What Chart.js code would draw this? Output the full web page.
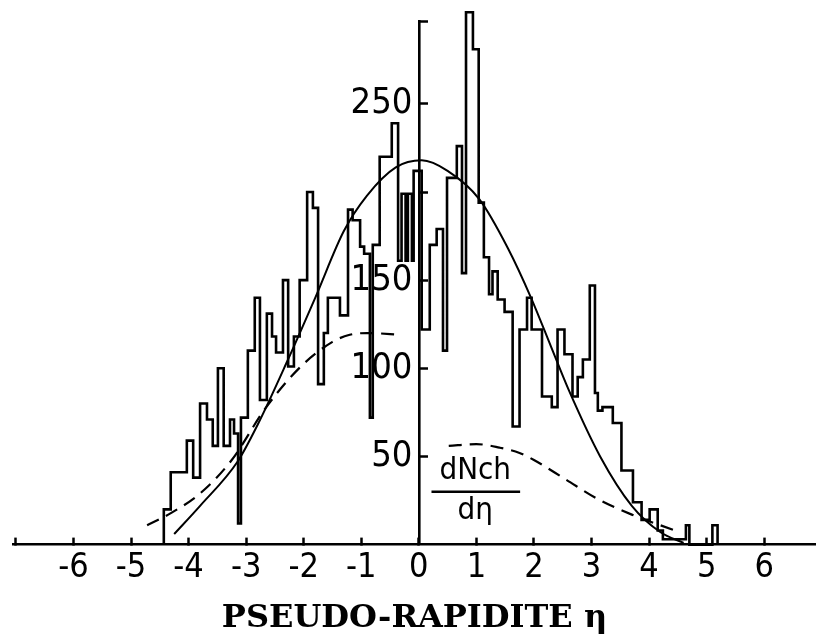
<!DOCTYPE html>
<html>
<head>
<meta charset="utf-8">
<script src="https://cdn.jsdelivr.net/npm/chart.js@4.4.1/dist/chart.umd.min.js"></script>
<style>
  html, body { margin: 0; padding: 0; background: #fff; }
  #etaChart { display: block; }
</style>
</head>
<body>
<canvas id="etaChart" width="816" height="639"></canvas>
<script>
// histogram: bin edges (eta) and counts per bin
const binEdges = [-4.43, -4.31, -4.03, -3.92, -3.80, -3.68, -3.58, -3.49, -3.39, -3.28,
  -3.21, -3.14, -3.09, -2.97, -2.85, -2.76, -2.64, -2.55, -2.48, -2.36,
  -2.27, -2.17, -2.07, -1.94, -1.84, -1.75, -1.65, -1.58, -1.37, -1.23,
  -1.15, -1.02, -0.95, -0.85, -0.80, -0.68, -0.47, -0.36, -0.30, -0.23,
  -0.19, -0.12, -0.09, 0.05, 0.19, 0.31, 0.42, 0.49, 0.66, 0.75,
  0.82, 0.94, 1.04, 1.13, 1.22, 1.28, 1.37, 1.49, 1.63, 1.75,
  1.88, 1.96, 2.14, 2.31, 2.41, 2.53, 2.67, 2.76, 2.85, 2.97,
  3.06, 3.11, 3.19, 3.37, 3.52, 3.72, 3.87, 4.01, 4.15, 4.24,
  4.64, 4.70, 5.10, 5.19];
const binCounts = [20, 41, 59, 38, 80, 71, 56, 100, 56, 71,
  63, 12, 72, 110, 140, 82, 131, 118, 109, 150,
  101, 118, 150, 200, 191, 91, 120, 140, 130, 190,
  184, 169, 165, 72, 170, 220, 239, 161, 199, 161,
  199, 161, 212, 122, 170, 179, 110, 208, 226, 154,
  302, 281, 194, 163, 142, 155, 139, 132, 67, 122,
  140, 122, 84, 78, 122, 108, 84, 95, 105, 147,
  86, 76, 78, 69, 42, 24, 14, 20, 8, 3,
  11, 0, 11];

// solid fitted curve
const fitEta = [-4.25, -3.8, -3.15, -2.8, -2.3, -1.8, -1.3, -0.9, -0.4, 0.05,
  0.5, 1.05, 1.55, 1.95, 2.3, 2.6, 3.15, 3.7, 4.2, 4.6];
const fitN = [6, 22, 47, 68, 103, 140, 178, 198, 214, 218,
  212, 196, 168, 140, 112, 88, 50, 22, 7, 1];

// dashed curve (two pieces, gap around the axis)
const dashEta = [-4.72, -4.3, -3.8, -3.25, -2.65, -2.05, -1.5, -1.2, -0.9, -0.3,
  0.1, 0.52, 1.0, 1.4, 1.75, 2.0, 2.55, 3.1, 3.7, 4.45];
const dashN = [11, 18, 29, 48, 78, 101, 115, 119, 120, 119,
  null, 56, 57, 55, 52, 48, 37, 26, 17, 8];

const xTickValues = [-7, -6, -5, -4, -3, -2, -1, 0, 1, 2, 3, 4, 5, 6];
const xTickLabels = ['', '-6', '-5', '-4', '-3', '-2', '-1', '0', '1', '2', '3', '4', '5', '6'];
const yTickValues = [50, 100, 150, 200, 250, 297];
const yTickLabels = ['50', '100', '150', '', '250', ''];

const histPoints = [{x: binEdges[0], y: 0}];
binCounts.forEach((c, i) => histPoints.push({x: binEdges[i], y: c}));
histPoints.push({x: binEdges[binEdges.length - 1], y: 0});

const fitPoints = fitEta.map((e, i) => ({x: e, y: fitN[i]}));
const dashPoints = dashEta.map((e, i) => ({x: e, y: dashN[i]}));

const sansFont = "'DejaVu Sans Condensed', 'Liberation Sans Narrow', 'DejaVu Sans', sans-serif";

// label dNch / d-eta next to the 50 tick
const fractionLabel = {
  id: 'fractionLabel',
  afterDatasetsDraw(chart) {
    const {ctx, scales: {x, y}} = chart;
    ctx.save();
    ctx.fillStyle = '#000';
    ctx.strokeStyle = '#000';
    ctx.font = '31px ' + sansFont;
    ctx.textAlign = 'center';
    ctx.textBaseline = 'middle';
    const cx = x.getPixelForValue(0.98);
    ctx.fillText('dNch', cx, y.getPixelForValue(42));
    ctx.lineWidth = 2.5;
    ctx.beginPath();
    ctx.moveTo(x.getPixelForValue(0.22), y.getPixelForValue(30));
    ctx.lineTo(x.getPixelForValue(1.76), y.getPixelForValue(30));
    ctx.stroke();
    ctx.fillText('d\u03B7', cx, y.getPixelForValue(19));
    ctx.restore();
  }
};

const ctx = document.getElementById('etaChart').getContext('2d');

const chart = new Chart(ctx, {
  type: 'line',
  data: {
    datasets: [
      {
        data: histPoints,
        stepped: 'before',
        borderColor: '#000',
        borderWidth: 2.6,
        pointRadius: 0,
        fill: false,
        clip: false
      },
      {
        data: fitPoints,
        borderColor: '#000',
        borderWidth: 2,
        pointRadius: 0,
        cubicInterpolationMode: 'monotone',
        fill: false
      },
      {
        data: dashPoints,
        borderColor: '#000',
        borderWidth: 2.2,
        borderDash: [13, 8],
        pointRadius: 0,
        cubicInterpolationMode: 'monotone',
        spanGaps: false,
        fill: false
      }
    ]
  },
  options: {
    responsive: false,
    animation: false,
    layout: { padding: { left: 13, right: 0, top: 21, bottom: 0 } },
    plugins: {
      legend: { display: false },
      tooltip: { enabled: false }
    },
    scales: {
      x: {
        type: 'linear',
        position: 'bottom',
        min: -7.05,
        max: 6.9,
        afterBuildTicks: (scale) => { scale.ticks = xTickValues.map(v => ({value: v})); },
        afterFit: (scale) => { scale.paddingLeft = 0; scale.paddingRight = 0; },
        grid: {
          drawOnChartArea: false,
          drawTicks: true,
          tickLength: -7,
          tickWidth: 2.5,
          tickColor: '#000'
        },
        border: { display: true, color: '#000', width: 2.6 },
        ticks: {
          color: '#000',
          padding: 14,
          maxRotation: 0,
          autoSkip: false,
          font: { family: sansFont, size: 34, lineHeight: 1.0 },
          callback: (v, i) => xTickLabels[i]
        },
        title: {
          display: true,
          text: 'PSEUDO-RAPIDITE \u03B7',
          color: '#000',
          font: { family: "'DejaVu Serif', 'Liberation Serif', serif", weight: 'bold', size: 32 },
          padding: { top: 0, bottom: 1 }
        }
      },
      y: {
        type: 'linear',
        position: { x: 0 },
        min: 0,
        max: 297,
        afterBuildTicks: (scale) => { scale.ticks = yTickValues.map(v => ({value: v})); },
        afterFit: (scale) => { scale.paddingTop = 0; scale.paddingBottom = 0; },
        grid: {
          drawOnChartArea: false,
          drawTicks: true,
          tickLength: -10,
          tickWidth: 2.5,
          tickColor: '#000'
        },
        border: { display: true, color: '#000', width: 2.6 },
        ticks: {
          color: '#000',
          padding: 0,
          autoSkip: false,
          font: { family: sansFont, size: 36 },
          callback: (v, i) => yTickLabels[i] ? yTickLabels[i] + '\u2009' : ''
        }
      }
    }
  },
  plugins: [fractionLabel]
});
</script>
</body>
</html>
